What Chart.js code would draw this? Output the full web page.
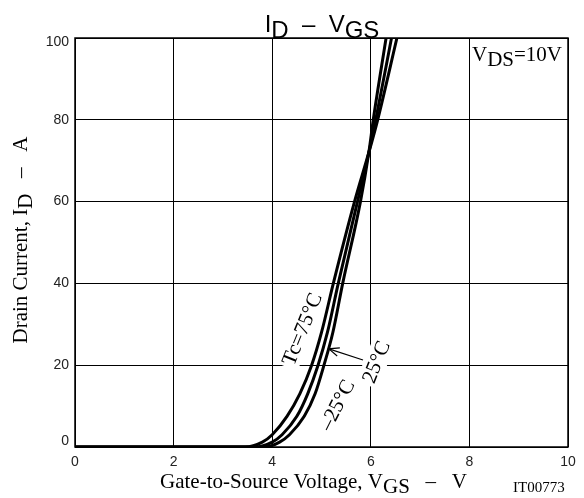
<!DOCTYPE html>
<html>
<head>
<meta charset="utf-8">
<script src="https://cdn.jsdelivr.net/npm/chart.js@4/dist/chart.umd.min.js"></script>
<style>
  html, body { margin: 0; padding: 0; background: #fff; }
  canvas { display: block; }
</style>
</head>
<body>
<canvas id="chart" width="584" height="498"></canvas>
<script>
// Data (VGS in V, ID in A)
const vgsTc75 = [0, 3.45, 3.8, 4.0, 4.3, 4.56, 4.8, 5.0, 5.24, 5.67, 5.96, 6.14, 6.53];
const idTc75  = [0, 0,    1.2, 3,   7.5, 13,   20,  28,  40,   60,   72,   80,   100];
const vgsTc25 = [0, 3.65, 4.0, 4.2, 4.5, 4.72, 4.93, 5.12, 5.34, 5.73, 5.96, 6.10, 6.42];
const idTc25  = [0, 0,    1.2, 3,   7.5, 13,   20,   28,   40,   60,   72,   80,   100];
const vgsTcM25 = [0, 3.85, 4.15, 4.35, 4.65, 4.87, 5.05, 5.23, 5.43, 5.79, 5.96, 6.05, 6.31];
const idTcM25  = [0, 0,    1.2,  3,    7.5,  13,   20,   28,   40,   60,   72,   80,   100];

const xTicks = [0, 2, 4, 6, 8, 10];
const yTicks = [0, 20, 40, 60, 80, 100];

const serif = '"Liberation Serif", "Times New Roman", serif';
const sans = '"Liberation Sans", Arial, sans-serif';

function toPoints(xs, ys) {
  return xs.map((x, i) => ({ x: x, y: ys[i] }));
}

function curve(xs, ys) {
  return {
    data: toPoints(xs, ys),
    borderColor: '#000',
    borderWidth: 3,
    pointRadius: 0,
    fill: false,
    cubicInterpolationMode: 'monotone'
  };
}

// text made of [text, isSub] parts on baseline y
function drawParts(ctx, parts, x, y, size, family, align) {
  ctx.font = size + 'px ' + family;
  let total = 0;
  parts.forEach(p => { total += ctx.measureText(p[0]).width; });
  let cx = align === 'center' ? x - total / 2 : x;
  ctx.textAlign = 'left';
  ctx.textBaseline = 'alphabetic';
  parts.forEach(p => {
    ctx.fillText(p[0], cx, y + (p[1] ? size * 0.26 : 0));
    cx += ctx.measureText(p[0]).width;
  });
}

// rotated label with a white box behind it (cuts the grid like the original)
function rotatedText(ctx, text, x, y, deg, size) {
  ctx.save();
  ctx.translate(x, y);
  ctx.rotate(deg * Math.PI / 180);
  ctx.font = size + 'px ' + serif;
  const w = ctx.measureText(text).width;
  ctx.fillStyle = '#fff';
  ctx.fillRect(-w / 2 - 3, -size / 2 - 1, w + 6, size + 2);
  ctx.fillStyle = '#000';
  ctx.textAlign = 'center';
  ctx.textBaseline = 'middle';
  ctx.fillText(text, 0, 1);
  ctx.restore();
}

const frame = {
  id: 'frame',
  beforeDatasetsDraw(chart) {
    const { ctx, chartArea: a } = chart;
    ctx.save();
    rotatedText(ctx, 'Tc=75\u00B0C', 302, 329, -68, 21);
    rotatedText(ctx, '25\u00B0C', 376, 362, -68, 21);
    rotatedText(ctx, '\u201325\u00B0C', 337, 405, -63, 21);
    ctx.strokeStyle = '#000';
    ctx.lineWidth = 1.5;
    ctx.strokeRect(a.left, a.top, a.right - a.left, a.bottom - a.top);
    ctx.restore();
  },
  afterDraw(chart) {
    const ctx = chart.ctx;
    const xs = chart.scales.x, ys = chart.scales.y;
    ctx.save();

    // y tick labels (end ones pulled inside like the original)
    ctx.fillStyle = '#222';
    ctx.font = '14px ' + sans;
    ctx.textAlign = 'right';
    ctx.textBaseline = 'middle';
    yTicks.forEach(v => {
      let off = 0;
      if (v === 0) off = -6;
      if (v === 100) off = 4;
      ctx.fillText(String(v), 69, ys.getPixelForValue(v) + off);
    });

    ctx.fillStyle = '#000';
    // title
    drawParts(ctx, [['I', false], ['D', true], ['  \u2013  V', false], ['GS', true]], 322, 32, 24, sans, 'center');

    // x axis title
    drawParts(ctx, [['Gate-to-Source Voltage, V', false], ['GS', true], ['   \u2013   V', false]], 160, 488, 21, serif, 'left');
    ctx.font = '15px ' + serif;
    ctx.textAlign = 'left';
    ctx.textBaseline = 'alphabetic';
    ctx.fillText('IT00773', 513, 492);

    // y axis title
    ctx.save();
    ctx.translate(27, 240);
    ctx.rotate(-Math.PI / 2);
    drawParts(ctx, [['Drain Current, I', false], ['D', true], ['   \u2013   A', false]], 0, 0, 21, serif, 'center');
    ctx.restore();

    // VDS label
    drawParts(ctx, [['V', false], ['DS', true], ['=10V', false]], 472, 61, 21, serif, 'left');

    // leader arrow to the 25°C curve
    const tipX = xs.getPixelForValue(5.15), tipY = ys.getPixelForValue(24);
    ctx.strokeStyle = '#000';
    ctx.lineWidth = 1.2;
    ctx.beginPath();
    ctx.moveTo(363, 360);
    ctx.lineTo(tipX, tipY);
    ctx.stroke();
    const ang = Math.atan2(360 - tipY, 363 - tipX);
    ctx.beginPath();
    ctx.moveTo(tipX + 11 * Math.cos(ang - 0.4), tipY + 11 * Math.sin(ang - 0.4));
    ctx.lineTo(tipX, tipY);
    ctx.lineTo(tipX + 11 * Math.cos(ang + 0.4), tipY + 11 * Math.sin(ang + 0.4));
    ctx.stroke();
    ctx.restore();
  }
};

new Chart(document.getElementById('chart'), {
  type: 'line',
  data: {
    datasets: [
      curve(vgsTc75, idTc75),
      curve(vgsTc25, idTc25),
      curve(vgsTcM25, idTcM25)
    ]
  },
  options: {
    responsive: false,
    animation: false,
    devicePixelRatio: 1,
    layout: { padding: { top: 38, right: 16, left: 0, bottom: 0 } },
    plugins: { legend: { display: false }, tooltip: { enabled: false }, title: { display: false } },
    scales: {
      x: {
        type: 'linear', min: 0, max: 10,
        afterBuildTicks: s => { s.ticks = xTicks.map(v => ({ value: v })); },
        afterFit: s => { s.height = 51; },
        ticks: { color: '#222', font: { family: sans, size: 14 }, padding: 7, maxRotation: 0 },
        grid: { color: '#000', lineWidth: 1, drawTicks: false },
        border: { display: false }
      },
      y: {
        type: 'linear', min: 0, max: 100,
        afterBuildTicks: s => { s.ticks = yTicks.map(v => ({ value: v })); },
        afterFit: s => { s.width = 75; },
        ticks: { display: false },
        grid: { color: '#000', lineWidth: 1, drawTicks: false },
        border: { display: false }
      }
    }
  },
  plugins: [frame]
});
</script>
</body>
</html>
